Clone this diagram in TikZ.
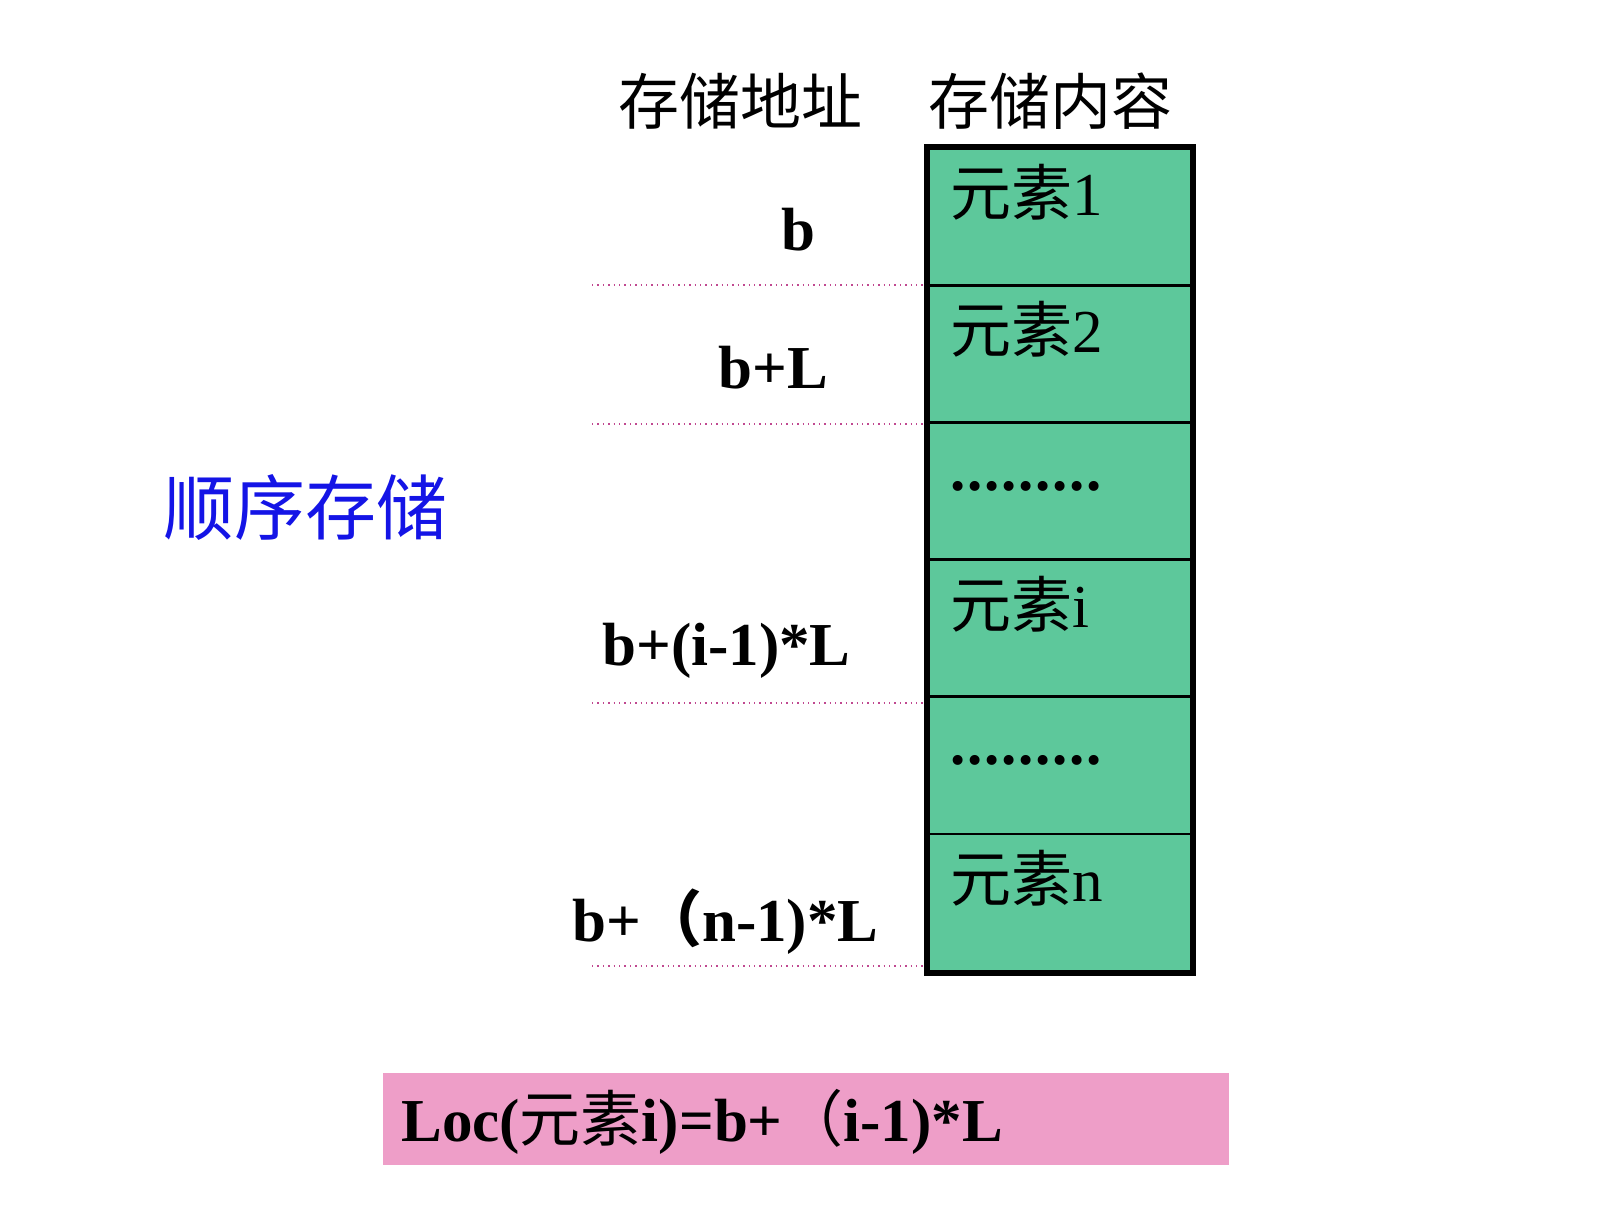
\documentclass[tikz,border=0pt]{standalone}
\usepackage{fontspec}
\setmainfont{Liberation Serif}
\newfontfamily\cjk{Noto Sans CJK SC}
\usetikzlibrary{positioning,calc}

\definecolor{cellgreen}{RGB}{93,200,155}
\definecolor{locpink}{RGB}{238,158,200}
\definecolor{addrpink}{RGB}{192,72,144}
\definecolor{titleblue}{RGB}{20,20,230}

\newcommand\elem[1]{{\cjk 元素}#1}
\newcommand\dotrow{\textbf{.\kern.9pt.\kern.9pt.\kern.9pt.\kern.9pt.\kern.9pt.\kern.9pt.\kern.9pt.\kern.9pt.}}

\begin{document}
\begin{tikzpicture}[
    x=0.5pt, y=-0.5pt,
    font=\fontsize{30.5}{36}\selectfont,
    cell/.style={draw=black, line width=1.4pt, fill=cellgreen, minimum width=132pt, minimum height=68.6pt, inner sep=0pt},
    celltext/.style={anchor=base west, inner sep=0pt},
    addr/.style={anchor=base west, inner sep=0pt, font=\fontsize{30.5}{36}\selectfont\bfseries},
    addrline/.style={dotted, line width=0.7pt, color=addrpink},
    head/.style={anchor=west, inner sep=0pt, font=\fontsize{30.5}{36}\selectfont\cjk}
]

\useasboundingbox (0,0) rectangle (1621,1215);

% Column headers
\node [head] (haddr) at (618,101) {存储地址};
\node [head] (hcont) at (928,101) {存储内容};

% Storage cells, top to bottom
\foreach \k/\txt in {1/\elem{1}, 2/\elem{2}, 3/\dotrow, 4/\elem{i}, 5/\dotrow, 6/\elem{n}}
{
    \node [cell] (c\k) at (1060, {216.6+137.2*(\k-1)}) {};
    \node [celltext] (t\k) at ([shift={(23,69)}]c\k.north west) {\txt};
}
\draw [line width=3pt] (c1.north west) rectangle (c6.south east);

% Addresses
\node [addr] (a1) at (781,250) {b};
\node [addr] (a2) at (718,388) {b+L};
\node [addr] (ai) at (602,665) {b+(i-1)*L};
\node [addr] (an) at (572,941) {b+{\cjk （}n-1)*L};

% Dotted address lines
\coordinate (d1) at (592,285);
\coordinate (d2) at (592,424);
\coordinate (di) at (592,703);
\coordinate (dn) at (592,966);
\foreach \d in {d1,d2,di,dn}
    \draw [addrline] (\d) -- (\d -| c1.west);

% Title
\node [anchor=west, inner sep=0pt, text=titleblue, font=\fontsize{35.5}{40}\selectfont\cjk] (title) at (163,507) {顺序存储};

% Address formula
\node [fill=locpink, minimum width=423pt, minimum height=46pt, inner sep=0pt] (locbox) at (806,1119) {};
\node [addr] (loc) at (401,1141) {Loc({\cjk\mdseries 元素}i)=b+{\cjk\mdseries （}i-1)*L};

\end{tikzpicture}
\end{document}
